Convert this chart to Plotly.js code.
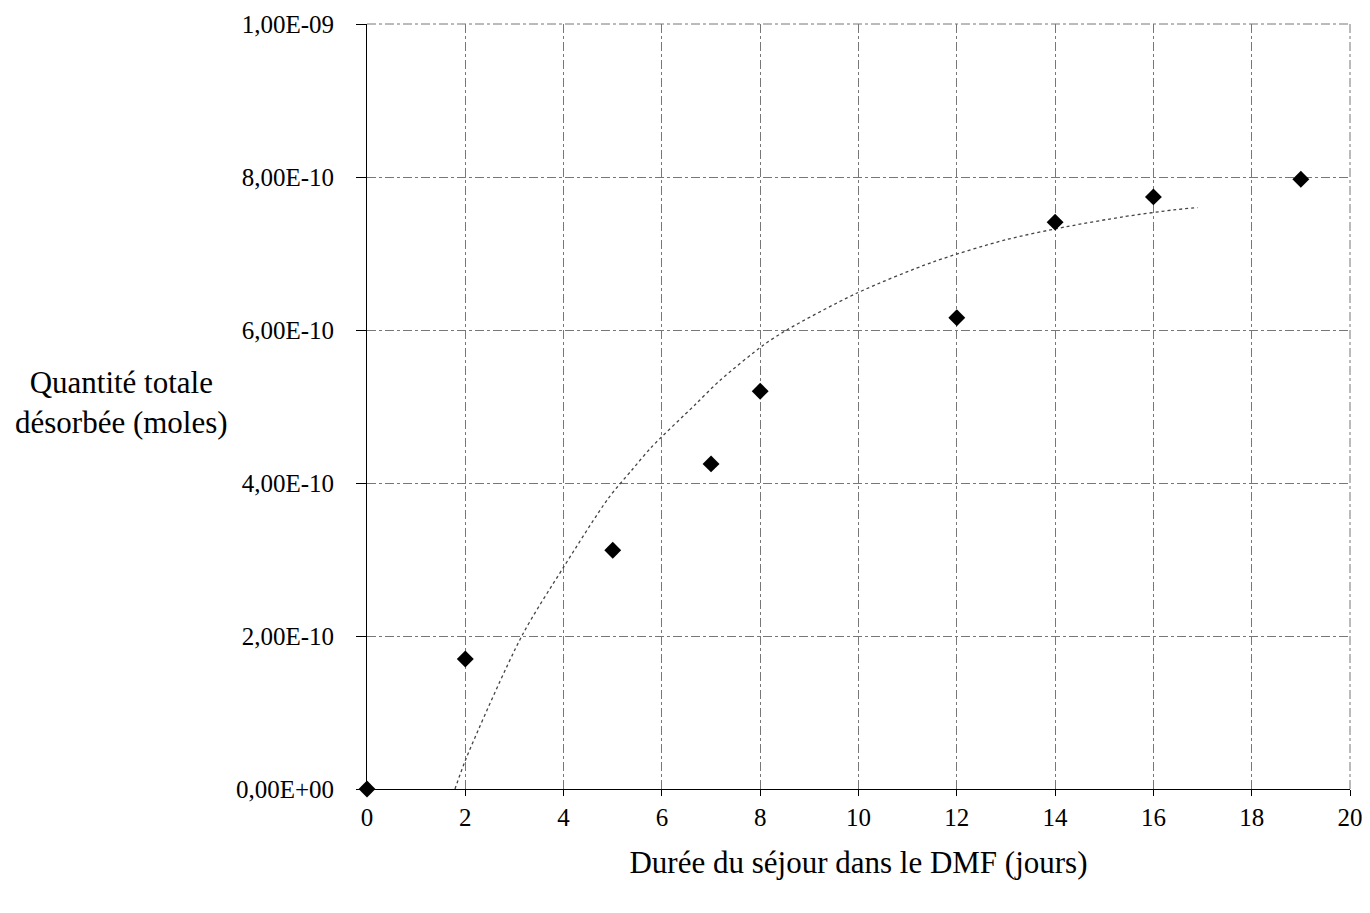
<!DOCTYPE html>
<html>
<head>
<meta charset="utf-8">
<script src="https://cdn.plot.ly/plotly-3.0.1.min.js"></script>
<style>html,body{margin:0;padding:0;background:#fff;}#chart{width:1370px;height:913px;}</style>
</head>
<body>
<div id="chart"></div>
<script>
// Measured points
const days = [0, 2, 5, 7, 8, 12, 14, 16, 19];
const moles = [0, 1.70e-10, 3.12e-10, 4.25e-10, 5.20e-10, 6.16e-10, 7.41e-10, 7.74e-10, 7.97e-10];

// Trend curve
const trendX = [1.79, 2.03, 3.15, 4.0, 4.91, 5.39, 5.79, 6.67, 7.18, 8.06, 8.54, 9.96, 11.52, 13.0, 14.23, 15.39, 16.41, 16.9];
const trendY = [0, 0.42e-10, 2.0e-10, 2.9e-10, 3.8e-10, 4.17e-10, 4.47e-10, 5.02e-10, 5.34e-10, 5.8e-10, 6.0e-10, 6.48e-10, 6.89e-10, 7.18e-10, 7.35e-10, 7.48e-10, 7.57e-10, 7.6e-10];

// Tick labels
const xTicks = [0, 2, 4, 6, 8, 10, 12, 14, 16, 18, 20];
const yTicks = [0, 2e-10, 4e-10, 6e-10, 8e-10, 1e-9];
const yTickText = ["0,00E+00", "2,00E-10", "4,00E-10", "6,00E-10", "8,00E-10", "1,00E-09"];

const xTitle = "Durée du séjour dans le DMF (jours)";
const yTitle = "Quantité totale<br>désorbée (moles)";

const font = "Liberation Serif, Times New Roman, serif";

const traces = [
  {
    x: trendX, y: trendY, type: "scatter", mode: "lines",
    line: {color: "#444", width: 1.3, dash: "dot", shape: "spline", smoothing: 0.8},
    hoverinfo: "skip", showlegend: false, cliponaxis: false
  },
  {
    x: days, y: moles, type: "scatter", mode: "markers",
    marker: {symbol: "diamond", size: 13, color: "#000"},
    showlegend: false, cliponaxis: false
  }
];

const layout = {
  width: 1370, height: 913,
  margin: {l: 367, r: 20, t: 24, b: 124},
  paper_bgcolor: "#fff", plot_bgcolor: "#fff",
  font: {family: font, size: 25, color: "#000"},
  showlegend: false,
  xaxis: {
    range: [0, 20], tickvals: xTicks, ticktext: xTicks.map(String),
    showgrid: true, gridcolor: "#777", gridwidth: 1, griddash: "dashdot",
    zeroline: false, showline: true, linecolor: "#000", linewidth: 1,
    ticks: "outside", ticklen: 6, tickcolor: "#000",
    ticklabelstandoff: 0,
    tickfont: {family: font, size: 25, color: "#000"},
    title: {text: xTitle, font: {family: font, size: 31, color: "#000"}, standoff: 21}
  },
  yaxis: {
    range: [0, 1e-9], tickvals: yTicks, ticktext: yTickText,
    showgrid: true, gridcolor: "#777", gridwidth: 1, griddash: "dashdot",
    zeroline: false, showline: true, linecolor: "#000", linewidth: 1,
    ticks: "outside", ticklen: 10, tickcolor: "#000",
    ticklabelstandoff: 17,
    tickfont: {family: font, size: 25, color: "#000"}
  },
  shapes: [
    {type: "line", xref: "paper", yref: "paper", x0: 1, x1: 1, y0: 0, y1: 1,
     line: {color: "#777", width: 1, dash: "dashdot"}},
    {type: "line", xref: "paper", yref: "paper", x0: 0, x1: 1, y0: 1, y1: 1,
     line: {color: "#777", width: 1, dash: "dashdot"}}
  ],
  annotations: [
    {text: yTitle, xref: "paper", yref: "paper", x: -0.25, y: 0.505,
     xanchor: "center", yanchor: "middle", showarrow: false, align: "center",
     font: {family: font, size: 31, color: "#000"}}
  ]
};

Plotly.newPlot("chart", traces, layout, {staticPlot: true, displayModeBar: false});
</script>
</body>
</html>
